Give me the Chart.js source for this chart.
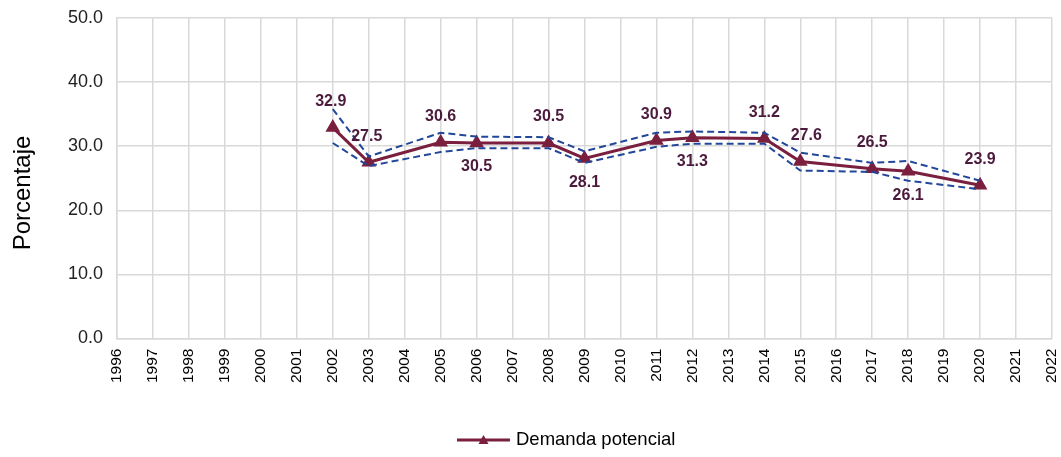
<!DOCTYPE html>
<html lang="es">
<head>
<meta charset="UTF-8">
<title>Demanda potencial</title>
<style>
  body { margin: 0; background: #fff; }
  .wrap { width: 1061px; height: 457px; position: relative; }
</style>
</head>
<body>
<div class="wrap"><canvas id="chart"></canvas></div>
<script src="https://cdn.jsdelivr.net/npm/chart.js"></script>
<script>
  const years = ['1996','1997','1998','1999','2000','2001','2002','2003','2004','2005','2006','2007','2008','2009',
                 '2010','2011','2012','2013','2014','2015','2016','2017','2018','2019','2020','2021','2022'];
  // null = no survey that year
  const demanda = [null,null,null,null,null,null,32.9,27.5,null,30.6,30.5,null,30.5,28.1,
                   null,30.9,31.3,null,31.2,27.6,null,26.5,26.1,null,23.9,null,null];
  const upper   = [null,null,null,null,null,null,35.8,28.4,null,32.1,31.5,null,31.4,29.2,
                   null,32.1,32.3,null,32.1,29.0,null,27.4,27.7,null,24.6,null,null];
  const lower   = [null,null,null,null,null,null,30.5,26.9,null,29.1,29.7,null,29.7,27.4,
                   null,29.9,30.4,null,30.4,26.2,null,26.0,24.6,null,23.3,null,null];
  // +1 label above the point, -1 below
  const labelSide = [0,0,0,0,0,0,1,1,0,1,-1,0,1,-1,0,1,-1,0,1,1,0,1,-1,0,1,0,0];
  const labelShift = [0,0,0,0,0,0,-2,-2,0,0,0,0,0,0,0,0,0,0,0,6,0,0,0,0,0,0,0];

  const maroon = '#7a1f3d';
  const navy = '#22479a';
  const font = '"Liberation Sans", Arial, sans-serif';

  const pointLabels = {
    id: 'pointLabels',
    afterDatasetsDraw(chart) {
      const ctx = chart.ctx;
      const meta = chart.getDatasetMeta(2);
      ctx.save();
      ctx.font = 'bold 16px ' + font;
      ctx.fillStyle = '#4b1a3c';
      ctx.textAlign = 'center';
      ctx.textBaseline = 'middle';
      meta.data.forEach((pt, i) => {
        if (demanda[i] === null) return;
        const dy = labelSide[i] > 0 ? -26 : 24;
        ctx.fillText(demanda[i].toFixed(1), pt.x + labelShift[i], pt.y + dy);
      });
      ctx.restore();
    }
  };

  // legend + axis title drawn by hand
  const extras = {
    id: 'extras',
    afterDraw(chart) {
      const ctx = chart.ctx;
      const y = 440;
      const x0 = 457, x1 = 510;
      ctx.save();
      ctx.strokeStyle = maroon;
      ctx.lineWidth = 3;
      ctx.beginPath();
      ctx.moveTo(x0, y);
      ctx.lineTo(x1, y);
      ctx.stroke();
      const cx = (x0 + x1) / 2;
      ctx.fillStyle = maroon;
      ctx.beginPath();
      ctx.moveTo(cx, y - 5);
      ctx.lineTo(cx + 5, y + 4);
      ctx.lineTo(cx - 5, y + 4);
      ctx.closePath();
      ctx.fill();
      ctx.fillStyle = '#000';
      ctx.font = '18.5px ' + font;
      ctx.textBaseline = 'middle';
      ctx.fillText('Demanda potencial', 516, y);

      ctx.translate(23, 193);
      ctx.rotate(-Math.PI / 2);
      ctx.textAlign = 'center';
      ctx.font = '24px ' + font;
      ctx.fillText('Porcentaje', 0, 0);
      ctx.restore();
    }
  };

  const bandStyle = {
    borderColor: navy,
    borderWidth: 2,
    borderDash: [7, 4],
    pointRadius: 0,
    fill: false,
    spanGaps: true,
    tension: 0
  };

  new Chart(document.getElementById('chart'), {
    type: 'line',
    data: {
      labels: years,
      datasets: [
        Object.assign({ label: 'Límite superior', data: upper }, bandStyle),
        Object.assign({ label: 'Límite inferior', data: lower }, bandStyle),
        {
          label: 'Demanda potencial',
          data: demanda,
          borderColor: maroon,
          backgroundColor: maroon,
          borderWidth: 3,
          pointStyle: 'triangle',
          pointRadius: 5.5,
          pointBackgroundColor: maroon,
          pointBorderColor: maroon,
          spanGaps: true,
          tension: 0
        }
      ]
    },
    options: {
      responsive: true,
      maintainAspectRatio: false,
      animation: false,
      layout: { padding: { top: 18, right: 9, bottom: 64, left: 54 } },
      plugins: {
        legend: { display: false },
        tooltip: { enabled: false }
      },
      scales: {
        x: {
          offset: false,
          grid: { color: '#d9d9d9', lineWidth: 1.5, drawTicks: false },
          border: { color: '#d9d9d9', width: 1.5 },
          afterFit(scale) { scale.paddingRight = 0; scale.paddingLeft = 0; },
          ticks: {
            minRotation: 90,
            maxRotation: 90,
            autoSkip: false,
            padding: 10,
            color: '#000',
            font: { family: font, size: 15.5 }
          }
        },
        y: {
          min: 0,
          max: 50,
          grid: { color: '#d9d9d9', lineWidth: 1.5, drawTicks: false },
          border: { color: '#d9d9d9', width: 1.5 },
          afterFit(scale) { scale.paddingTop = 0; scale.paddingBottom = 0; },
          ticks: {
            stepSize: 10,
            padding: 14,
            color: '#222',
            font: { family: font, size: 18 },
            callback: v => v.toFixed(1)
          }
        }
      }
    },
    plugins: [pointLabels, extras]
  });
</script>
</body>
</html>
